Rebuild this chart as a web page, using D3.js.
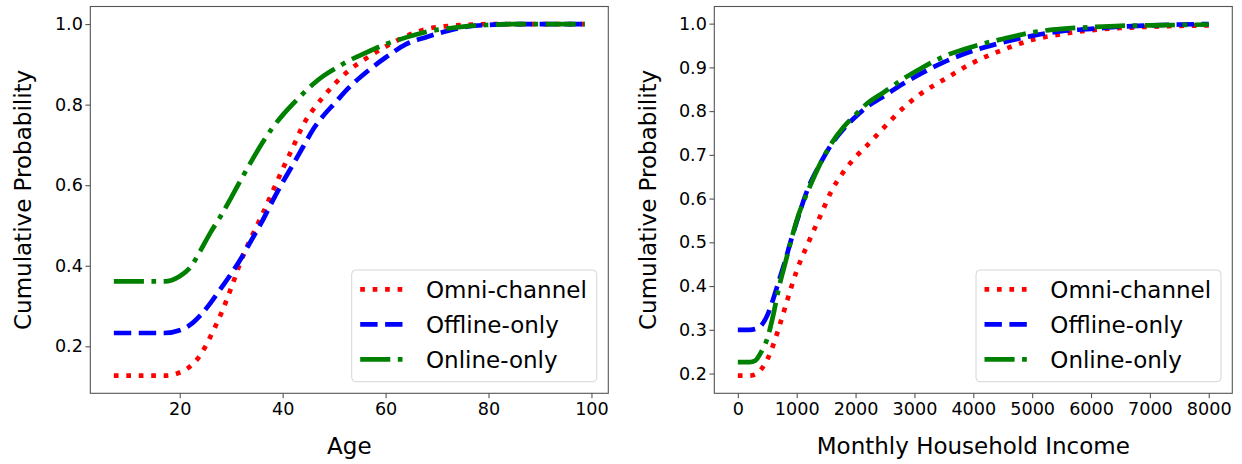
<!DOCTYPE html>
<html>
<head>
<meta charset="utf-8">
<script src="https://cdn.jsdelivr.net/npm/d3@7"></script>
<style>
  html, body { margin: 0; padding: 0; background: #fff; }
  svg { display: block; }
  text { font-family: "DejaVu Sans", sans-serif; fill: #000; }
</style>
</head>
<body>
<svg id="chart" width="1242" height="464"></svg>
<script>
// ---------------- DATA ----------------
const seriesNames = ["Omni-channel", "Offline-only", "Online-only"];

// Left panel: Age
const ages = [7.2, 17, 20, 22, 24, 26, 28, 30, 32, 34, 36, 38, 40, 42, 44, 46, 48, 50, 53, 56, 60, 64, 68, 72, 76, 80, 85, 90, 98.7];
const ageOmni    = [0.127, 0.127, 0.135, 0.150, 0.178, 0.225, 0.280, 0.345, 0.415, 0.473, 0.526, 0.583, 0.640, 0.694, 0.750, 0.789, 0.821, 0.850, 0.886, 0.913, 0.944, 0.970, 0.988, 0.995, 0.998, 1.0, 1.0, 1.0, 1.0];
const ageOffline = [0.233, 0.233, 0.240, 0.253, 0.277, 0.308, 0.344, 0.380, 0.420, 0.465, 0.510, 0.560, 0.607, 0.651, 0.696, 0.740, 0.774, 0.802, 0.844, 0.878, 0.917, 0.950, 0.968, 0.983, 0.994, 0.998, 1.0, 1.0, 1.0];
const ageOnline  = [0.361, 0.361, 0.374, 0.395, 0.437, 0.483, 0.524, 0.569, 0.616, 0.661, 0.704, 0.742, 0.774, 0.802, 0.828, 0.852, 0.872, 0.888, 0.910, 0.928, 0.950, 0.967, 0.981, 0.989, 0.995, 0.998, 1.0, 1.0, 1.0];
const ageTicks = [20, 40, 60, 80, 100];
const ageProbTicks = [0.2, 0.4, 0.6, 0.8, 1.0];

// Right panel: Monthly Household Income
const incomes = [0, 200, 300, 400, 500, 600, 700, 800, 900, 1000, 1200, 1400, 1600, 1800, 2000, 2200, 2500, 2800, 3100, 3500, 4000, 4500, 5000, 5500, 6000, 6500, 7000, 7500, 8000];
const incOmni    = [0.195, 0.195, 0.198, 0.210, 0.232, 0.265, 0.306, 0.350, 0.394, 0.435, 0.500, 0.560, 0.620, 0.662, 0.695, 0.722, 0.765, 0.806, 0.839, 0.872, 0.911, 0.940, 0.963, 0.976, 0.985, 0.990, 0.993, 0.995, 0.996];
const incOffline = [0.300, 0.300, 0.302, 0.310, 0.333, 0.370, 0.413, 0.456, 0.503, 0.547, 0.626, 0.680, 0.726, 0.760, 0.787, 0.810, 0.836, 0.862, 0.885, 0.912, 0.938, 0.957, 0.972, 0.983, 0.988, 0.993, 0.996, 0.998, 0.999];
const incOnline  = [0.226, 0.226, 0.230, 0.250, 0.280, 0.333, 0.398, 0.450, 0.502, 0.550, 0.620, 0.680, 0.728, 0.764, 0.792, 0.818, 0.845, 0.873, 0.897, 0.925, 0.948, 0.965, 0.980, 0.988, 0.992, 0.995, 0.996, 0.997, 0.998];
const incTicks = [0, 1000, 2000, 3000, 4000, 5000, 6000, 7000, 8000];
const incProbTicks = [0.2, 0.3, 0.4, 0.5, 0.6, 0.7, 0.8, 0.9, 1.0];

// ---------------- STYLE ----------------
const colors = ["#ff0000", "#0000ff", "#008000"];
const LW = 4.7;
const dashes = [
  [1 * LW, 1.65 * LW].join(","),
  [3.7 * LW, 1.6 * LW].join(","),
  [6.4 * LW, 1.6 * LW, 1 * LW, 1.6 * LW].join(",")
];

const svg = d3.select("#chart");

function pad(ext) {
  const r = ext[1] - ext[0];
  return [ext[0] - 0.05 * r, ext[1] + 0.05 * r];
}

function panel(cfg) {
  const { left, right, top, bottom } = cfg.box;
  const allY = [].concat(...cfg.ys);
  const x = d3.scaleLinear().domain(pad(d3.extent(cfg.xs))).range([left, right]);
  const y = d3.scaleLinear().domain(pad(d3.extent(allY))).range([bottom, top]);

  const g = svg.append("g");

  // lines
  const line = d3.line().x(d => x(d[0])).y(d => y(d[1])).curve(d3.curveMonotoneX);
  cfg.ys.forEach((vals, i) => {
    g.append("path")
      .datum(cfg.xs.map((xv, j) => [xv, vals[j]]))
      .attr("d", line)
      .attr("fill", "none")
      .attr("stroke", colors[i])
      .attr("stroke-width", LW)
      .attr("stroke-dasharray", dashes[i])
      .attr("stroke-linecap", "butt");
  });

  // frame
  g.append("rect")
    .attr("x", left).attr("y", top)
    .attr("width", right - left).attr("height", bottom - top)
    .attr("fill", "none").attr("stroke", "#555").attr("stroke-width", 1.1);

  // axes
  const xAxis = d3.axisBottom(x).tickValues(cfg.xTicks).tickSize(4.9).tickPadding(4.5).tickFormat(d3.format("d"));
  const gx = g.append("g").attr("transform", `translate(0,${bottom})`).call(xAxis);
  const yAxis = d3.axisLeft(y).tickValues(cfg.yTicks).tickSize(4.9).tickPadding(2.5).tickFormat(d3.format(".1f"));
  const gy = g.append("g").attr("transform", `translate(${left},0)`).call(yAxis);
  [gx, gy].forEach(a => {
    a.select(".domain").remove();
    a.selectAll(".tick line").attr("stroke", "#555").attr("stroke-width", 1.1);
    a.selectAll(".tick text").style("font-family", "DejaVu Sans").style("font-size", "17.6px").attr("fill", "#111");
  });

  // axis labels
  g.append("text")
    .attr("x", (left + right) / 2).attr("y", 454)
    .attr("text-anchor", "middle")
    .style("font-size", "23px")
    .attr("fill", "#111")
    .text(cfg.xLabel);
  g.append("text")
    .attr("transform", `translate(${cfg.yLabelX},${(top + bottom) / 2}) rotate(-90)`)
    .attr("text-anchor", "middle")
    .style("font-size", "23px")
    .attr("fill", "#111")
    .text("Cumulative Probability");

  // legend
  const lg = cfg.legend;
  g.append("rect")
    .attr("x", lg.x).attr("y", lg.y).attr("width", lg.w).attr("height", lg.h)
    .attr("rx", 4).attr("ry", 4)
    .attr("fill", "#fff").attr("fill-opacity", 0.8)
    .attr("stroke", "#d6d6d6").attr("stroke-width", 1);
  seriesNames.forEach((name, i) => {
    const cy = lg.y + 19.3 + i * 35;
    g.append("line")
      .attr("x1", lg.x + 8.5).attr("x2", lg.x + 50.8)
      .attr("y1", cy).attr("y2", cy)
      .attr("stroke", colors[i]).attr("stroke-width", LW)
      .attr("stroke-dasharray", dashes[i]);
    g.append("text")
      .attr("x", lg.x + 74.3).attr("y", cy + 8.3)
      .style("font-size", "23px")
      .attr("fill", "#111")
      .text(name);
  });
}

panel({
  box: { left: 90.3, right: 608.3, top: 6.5, bottom: 393.3 },
  xs: ages, ys: [ageOmni, ageOffline, ageOnline],
  xTicks: ageTicks, yTicks: ageProbTicks,
  xLabel: "Age", yLabelX: 30.8,
  legend: { x: 351.7, y: 270, w: 245, h: 111.7 }
});

panel({
  box: { left: 714.3, right: 1232.3, top: 6.5, bottom: 393.3 },
  xs: incomes, ys: [incOmni, incOffline, incOnline],
  xTicks: incTicks, yTicks: incProbTicks,
  xLabel: "Monthly Household Income", yLabelX: 655.5,
  legend: { x: 976, y: 270, w: 245, h: 111.7 }
});
</script>
</body>
</html>
